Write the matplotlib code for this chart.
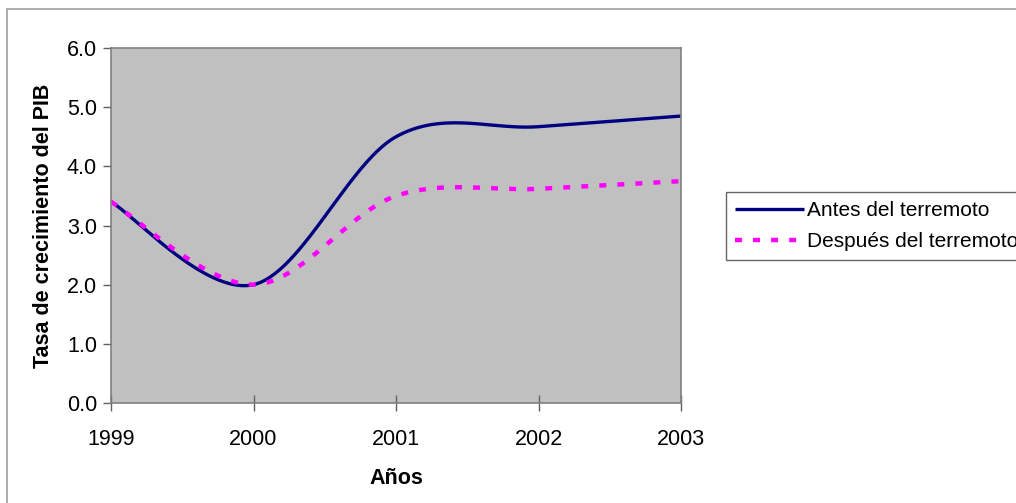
import numpy as np
import matplotlib
matplotlib.use("Agg")
import matplotlib.pyplot as plt
from matplotlib.patches import Rectangle

plt.rcParams['font.family'] = ['Liberation Sans', 'DejaVu Sans']
plt.rcParams['lines.scale_dashes'] = False

# growth rate of GDP, before and after the earthquake
years = [1999, 2000, 2001, 2002, 2003]
antes = [3.4, 2.0, 4.5, 4.67, 4.85]
despues = [3.4, 2.0, 3.5, 3.62, 3.75]
yticks = [0.0, 1.0, 2.0, 3.0, 4.0, 5.0, 6.0]


def smooth(x, y, n=60):
    # spreadsheet-style smoothed line: cubic bezier with catmull-rom handles
    x = np.asarray(x, float)
    y = np.asarray(y, float)
    xs, ys = [], []
    for i in range(len(x) - 1):
        i0 = max(i - 1, 0)
        i3 = min(i + 2, len(x) - 1)
        p0 = np.array([x[i], y[i]])
        p3 = np.array([x[i + 1], y[i + 1]])
        p1 = p0 + (np.array([x[i + 1], y[i + 1]]) - np.array([x[i0], y[i0]])) / 6.0
        p2 = p3 - (np.array([x[i3], y[i3]]) - np.array([x[i], y[i]])) / 6.0
        t = np.linspace(0, 1, n)[:, None]
        b = (1 - t)**3 * p0 + 3 * (1 - t)**2 * t * p1 + 3 * (1 - t) * t**2 * p2 + t**3 * p3
        xs.extend(b[:, 0])
        ys.extend(b[:, 1])
    return np.array(xs), np.array(ys)


fs = 15.5

fig = plt.figure(figsize=(10.16, 5.03), dpi=100)
fig.patches.append(Rectangle((7 / 1016, -0.1), 1.1, (503 - 9) / 503 + 0.1,
                             transform=fig.transFigure, fill=False,
                             edgecolor='#a0a0a0', lw=1.2))

ax = fig.add_axes([111 / 1016, 100 / 503, 570 / 1016, 355 / 503])
ax.set_facecolor('#c0c0c0')

xa, ya = smooth(years, antes)
xd, yd = smooth(years, despues)
ax.plot(xa, ya, color='#000080', lw=2.4, label='Antes del terremoto',
        solid_capstyle='butt')
ax.plot(xd, yd, color='#ff00ff', lw=3.2, dashes=(5, 8),
        label='Después del terremoto')

ax.set_xlim(years[0], years[-1])
ax.set_ylim(yticks[0], yticks[-1])
ax.set_xticks(years)
ax.set_xticklabels([str(y) for y in years])
ax.set_yticks(yticks)
ax.set_yticklabels(['%.1f' % v for v in yticks])

for s in ax.spines.values():
    s.set_color('#808080')
    s.set_linewidth(1.2)
ax.tick_params(axis='y', direction='out', length=6, width=1, color='#606060',
               labelsize=fs, pad=4)
ax.tick_params(axis='x', direction='inout', length=12, width=1, color='#606060',
               labelsize=fs, pad=13)

ax.set_xlabel('Años', fontsize=fs, fontweight='bold', labelpad=13)
ax.set_ylabel('Tasa de crecimiento del PIB', fontsize=fs, fontweight='bold',
              labelpad=9)

leg = ax.legend(loc='upper left', bbox_to_anchor=(726 / 1016, (503 - 192) / 503),
                bbox_transform=fig.transFigure, frameon=True, fancybox=False,
                fontsize=15, handlelength=3.3, handletextpad=0.12,
                borderpad=0.45, labelspacing=0.55, borderaxespad=0)
leg.get_frame().set_edgecolor('#404040')
leg.get_frame().set_linewidth(1)

fig.savefig('out.png', dpi=100)
